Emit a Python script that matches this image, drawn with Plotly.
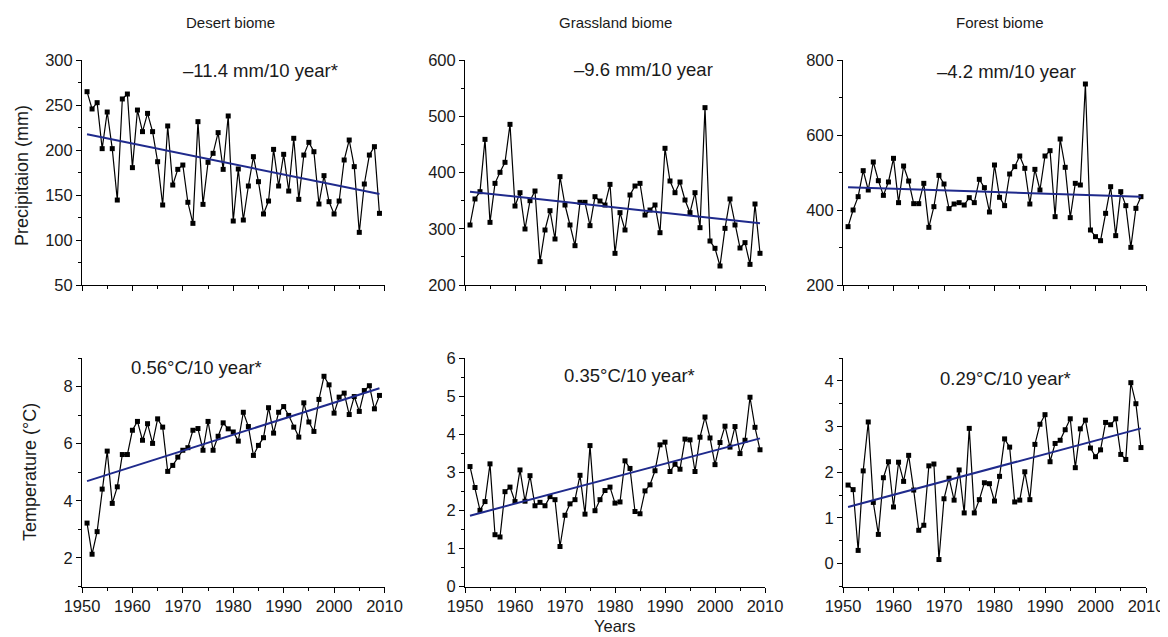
import plotly.graph_objects as go

years = list(range(1951, 2010))

desert_precip = [264.8, 245.6, 252.6, 201.5, 242.2, 201.5, 144.4, 256.7, 262.2, 180.4,
                 244.4, 220.4, 240.7, 220.4, 187.0, 138.9, 226.7, 161.1, 178.5, 183.3,
                 141.9, 118.5, 231.5, 139.6, 186.3, 196.3, 219.3, 178.5, 237.8, 121.1,
                 178.9, 122.2, 160.0, 192.6, 164.8, 128.9, 143.3, 200.7, 160.0, 195.2,
                 154.4, 213.0, 145.2, 194.4, 208.5, 198.1, 140.0, 171.5, 142.6, 128.9,
                 143.3, 188.9, 211.1, 181.5, 108.5, 162.2, 194.4, 203.7, 129.6]

grass_precip = [306.7, 352.9, 365.9, 458.9, 311.4, 380.7, 400.3, 418.1, 485.6, 340.4,
                364.1, 299.6, 349.9, 367.1, 241.5, 297.8, 332.1, 281.8, 392.6, 342.2,
                306.7, 269.9, 347.0, 347.0, 305.5, 357.0, 349.3, 342.2, 378.9, 256.3,
                328.6, 297.8, 360.0, 376.0, 380.7, 324.4, 333.3, 342.2, 293.0, 443.0,
                384.9, 364.1, 383.1, 351.1, 328.6, 364.1, 301.9, 515.3, 278.2, 265.2,
                233.8, 300.7, 352.9, 306.7, 265.8, 275.3, 236.7, 344.0, 256.3]

forest_precip = [355.6, 400.0, 435.6, 504.9, 453.3, 528.0, 478.2, 439.1, 474.7, 537.8,
                 419.6, 517.3, 477.3, 416.9, 416.9, 471.1, 353.8, 408.9, 492.4, 469.3,
                 403.6, 416.0, 419.6, 413.3, 432.9, 419.6, 481.8, 459.6, 394.7, 520.0,
                 433.8, 411.6, 496.0, 515.6, 544.0, 511.1, 416.0, 508.4, 453.3, 544.0,
                 558.2, 382.2, 589.3, 513.8, 379.6, 471.1, 466.7, 736.0, 346.7, 328.9,
                 318.2, 391.1, 462.2, 331.6, 448.9, 411.6, 300.4, 404.4, 435.6]

desert_temp = [3.22, 2.13, 2.92, 4.41, 5.74, 3.91, 4.49, 5.62, 5.62, 6.47,
               6.78, 6.12, 6.70, 6.01, 6.87, 6.58, 5.03, 5.24, 5.53, 5.77,
               5.86, 6.47, 6.53, 5.77, 6.78, 5.77, 6.26, 6.73, 6.52, 6.41,
               6.09, 7.10, 6.60, 5.59, 5.94, 6.21, 7.26, 6.37, 7.10, 7.30,
               6.99, 6.58, 6.23, 7.43, 6.76, 6.43, 7.55, 8.36, 8.06, 7.07,
               7.63, 7.77, 7.02, 7.65, 7.13, 7.86, 8.03, 7.22, 7.69]

grass_temp = [3.15, 2.60, 2.00, 2.23, 3.22, 1.36, 1.30, 2.49, 2.61, 2.23,
              3.06, 2.24, 2.91, 2.12, 2.21, 2.12, 2.36, 2.28, 1.05, 1.87,
              2.17, 2.28, 2.92, 1.90, 3.70, 1.99, 2.28, 2.52, 2.61, 2.19,
              2.22, 3.30, 3.10, 1.97, 1.91, 2.51, 2.67, 3.04, 3.72, 3.79,
              3.02, 3.21, 3.08, 3.87, 3.85, 3.02, 3.92, 4.45, 3.90, 3.20,
              3.78, 4.21, 3.66, 4.20, 3.49, 3.84, 4.97, 4.18, 3.59]

forest_temp = [1.72, 1.62, 0.29, 2.03, 3.10, 1.34, 0.64, 1.88, 2.23, 1.24,
               2.22, 1.80, 2.37, 1.61, 0.73, 0.84, 2.14, 2.18, 0.09, 1.42,
               1.87, 1.39, 2.05, 1.11, 2.96, 1.11, 1.40, 1.77, 1.75, 1.37,
               1.91, 2.73, 2.55, 1.35, 1.39, 2.01, 1.40, 2.61, 3.05, 3.26,
               2.23, 2.63, 2.70, 2.93, 3.17, 2.10, 2.95, 3.14, 2.53, 2.34,
               2.49, 3.09, 3.04, 3.17, 2.39, 2.28, 3.96, 3.50, 2.54]

# trend line values at 1951 and 2009
trend_years = [1951, 2009]
trend_start = [217.4, 365.9, 460.4, 4.69, 1.86, 1.24]
trend_end = [151.1, 309.6, 435.6, 7.94, 3.89, 2.96]

biome_titles = ["Desert biome", "Grassland biome", "Forest biome"]
trend_labels = ["\u201311.4 mm/10 year*", "\u20139.6 mm/10 year", "\u20134.2 mm/10 year",
                "0.56\u00b0C/10 year*", "0.35\u00b0C/10 year*", "0.29\u00b0C/10 year*"]
y_ranges = [[50, 300], [200, 600], [200, 800], [1, 9], [0, 6], [-0.5, 4.5]]
y_dticks = [50, 100, 200, 2, 1, 1]
y_minor = [25, 50, 100, 1, 0.5, 0.5]
y_tick0 = [50, 200, 200, 2, 0, 0]
x_ticks = [1950, 1960, 1970, 1980, 1990, 2000, 2010]

series = [desert_precip, grass_precip, forest_precip, desert_temp, grass_temp, forest_temp]

# page has an 8px body margin: the figure starts at (8, 8) in the screenshot
OFF = 8
W, H = 1168 - OFF, 637 - OFF
FONT = "Liberation Sans, Arial, Helvetica, sans-serif"
TXT = "#1a1a1a"
TREND = "#1f2a8c"


def fx(px):
    return (px - OFF) / W


def fy(py):
    return 1 - (py - OFF) / H


# pixel boxes in screenshot coords (left, right, top, bottom)
boxes = [(82, 384.5, 60, 285), (465, 765, 60, 285), (843, 1146, 60, 285),
         (82, 384.5, 358, 586.5), (465, 765, 358, 586.5), (843, 1146, 358, 586.5)]

fig = go.Figure()
layout = {}
for i in range(6):
    n = "" if i == 0 else str(i + 1)
    l, r, t, b = boxes[i]
    xa = dict(domain=[fx(l), fx(r)], range=[1950, 2010], anchor="y" + n,
              showgrid=False, zeroline=False, showline=True, linecolor="black", linewidth=1,
              ticks="outside", ticklen=5, tickcolor="black", tickwidth=1,
              tickvals=x_ticks, showticklabels=(i >= 3),
              minor=dict(dtick=5, tick0=1950, ticks="outside", ticklen=3, tickcolor="black", showgrid=False),
              tickfont=dict(family=FONT, size=16.5, color=TXT))
    ya = dict(domain=[fy(b), fy(t)], range=y_ranges[i], anchor="x" + n,
              showgrid=False, zeroline=False, showline=True, linecolor="black", linewidth=1,
              ticks="outside", ticklen=5, tickcolor="black", tickwidth=1,
              dtick=y_dticks[i], tick0=y_tick0[i],
              minor=dict(dtick=y_minor[i], ticks="outside", ticklen=3, tickcolor="black", showgrid=False),
              tickfont=dict(family=FONT, size=16.5, color=TXT))
    layout["xaxis" + n] = xa
    layout["yaxis" + n] = ya

    fig.add_trace(go.Scatter(x=years, y=series[i], mode="lines+markers",
                             line=dict(color="black", width=1.2),
                             marker=dict(symbol="square", size=5, color="black"),
                             xaxis="x" + n, yaxis="y" + n, showlegend=False, cliponaxis=False))
    fig.add_trace(go.Scatter(x=trend_years, y=[trend_start[i], trend_end[i]], mode="lines",
                             line=dict(color=TREND, width=2),
                             xaxis="x" + n, yaxis="y" + n, showlegend=False))

annotations = []
title_x = [230, 615, 1000]
for j in range(3):
    annotations.append(dict(text=biome_titles[j], x=fx(title_x[j]), y=fy(22), xref="paper", yref="paper",
                            showarrow=False, font=dict(family=FONT, size=15, color=TXT),
                            xanchor="center", yanchor="middle"))
lab_pos = [(260, 71), (643, 70), (1006, 72), (196, 367), (629, 375), (1005, 378)]
for i in range(6):
    x0, y0 = lab_pos[i]
    annotations.append(dict(text=trend_labels[i], x=fx(x0), y=fy(y0), xref="paper", yref="paper",
                            showarrow=False, font=dict(family=FONT, size=18.5, color=TXT),
                            xanchor="center", yanchor="middle"))
annotations.append(dict(text="Precipitaion (mm)", x=fx(22), y=fy(176), xref="paper", yref="paper",
                        textangle=-90, showarrow=False, font=dict(family=FONT, size=18, color=TXT),
                        xanchor="center", yanchor="middle"))
annotations.append(dict(text="Temperature (\u00b0C)", x=fx(30), y=fy(472), xref="paper", yref="paper",
                        textangle=-90, showarrow=False, font=dict(family=FONT, size=18, color=TXT),
                        xanchor="center", yanchor="middle"))
annotations.append(dict(text="Years", x=fx(615), y=fy(626), xref="paper", yref="paper",
                        showarrow=False, font=dict(family=FONT, size=16.5, color=TXT),
                        xanchor="center", yanchor="middle"))

fig.update_layout(width=W, height=H, margin=dict(l=0, r=0, t=0, b=0, autoexpand=False),
                  paper_bgcolor="white", plot_bgcolor="white",
                  annotations=annotations, **layout)

fig.write_html("out.html")
